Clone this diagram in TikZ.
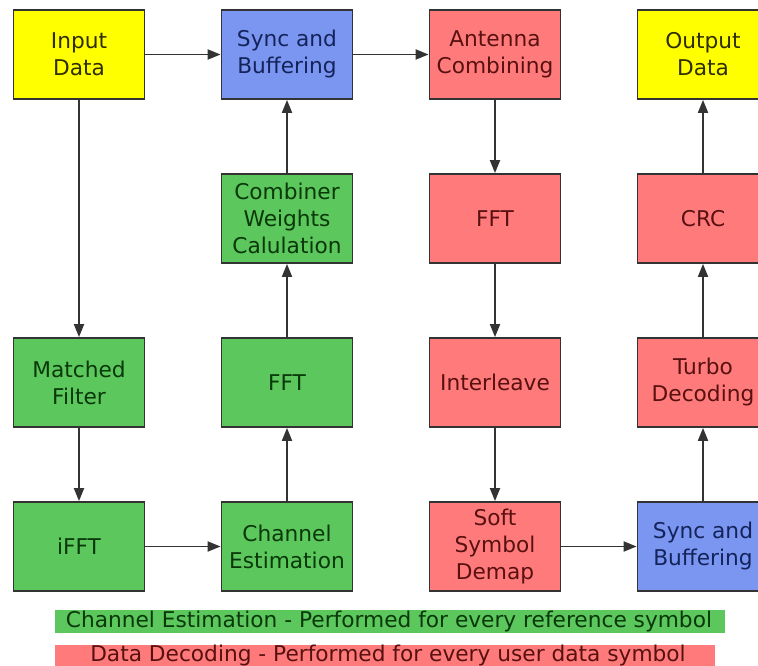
\documentclass[tikz,border=0pt]{standalone}
\usepackage{fontspec}
\setmainfont{DejaVu Sans}
\usetikzlibrary{arrows.meta}
\definecolor{cyel}{HTML}{FFFF00}
\definecolor{cblue}{HTML}{7B96F0}
\definecolor{cgreen}{HTML}{5CC75C}
\definecolor{cred}{HTML}{FF7B7B}
\definecolor{tyel}{HTML}{2E2E00}
\definecolor{tblue}{HTML}{14245A}
\definecolor{tgreen}{HTML}{0A380A}
\definecolor{tred}{HTML}{581010}
\definecolor{edge}{HTML}{333333}
\tikzset{
  box/.style={draw=edge, line width=1.8pt, minimum width=131pt, minimum height=89pt,
    inner sep=0pt, align=center, font=\fontsize{21.7}{27}\selectfont},
  ybox/.style={box, fill=cyel, text=tyel},
  bbox/.style={box, fill=cblue, text=tblue},
  gbox/.style={box, fill=cgreen, text=tgreen},
  rbox/.style={box, fill=cred, text=tred},
  conn/.style={draw=edge, line width=1.9pt, -{Triangle[length=13pt,width=10pt]}},
  legend/.style={inner sep=0pt, font=\fontsize{21.7}{27}\selectfont}
}
\begin{document}
\begin{tikzpicture}[x=1pt,y=-1pt]
\useasboundingbox (0,0) rectangle (758,666);
\clip (0,0) rectangle (758,666);
\fill[white] (0,0) rectangle (758,666);
% column 1
\node[ybox] (in) at (79,54.5) {Input\\Data};
\node[gbox] (mf) at (79,382.5) {Matched\\Filter};
\node[gbox] (ifft) at (79,546.5) {iFFT};
% column 2
\node[bbox] (sync1) at (287,54.5) {Sync and\\Buffering};
\node[gbox] (cw) at (287,218.5) {Combiner\\Weights\\Calulation};
\node[gbox] (fft1) at (287,382.5) {FFT};
\node[gbox] (ce) at (287,546.5) {Channel\\Estimation};
% column 3
\node[rbox] (ac) at (495,54.5) {Antenna\\Combining};
\node[rbox] (fft2) at (495,218.5) {FFT};
\node[rbox] (il) at (495,382.5) {Interleave};
\node[rbox] (ssd) at (495,546.5) {Soft\\Symbol\\Demap};
% column 4
\node[ybox] (out) at (703,54.5) {Output\\Data};
\node[rbox] (crc) at (703,218.5) {CRC};
\node[rbox] (td) at (703,382.5) {Turbo\\Decoding};
\node[bbox] (sync2) at (703,546.5) {Sync and\\Buffering};
% connectors
\draw[conn] (in) -- (sync1);
\draw[conn] (sync1) -- (ac);
\draw[conn] (in) -- (mf);
\draw[conn] (mf) -- (ifft);
\draw[conn] (ifft) -- (ce);
\draw[conn] (ce) -- (fft1);
\draw[conn] (fft1) -- (cw);
\draw[conn] (cw) -- (sync1);
\draw[conn] (ac) -- (fft2);
\draw[conn] (fft2) -- (il);
\draw[conn] (il) -- (ssd);
\draw[conn] (ssd) -- (sync2);
\draw[conn] (sync2) -- (td);
\draw[conn] (td) -- (crc);
\draw[conn] (crc) -- (out);
% legend
\fill[cgreen] (55,610) rectangle (725,633);
\node[legend, text=tgreen] (lg) at (389,621.5) {Channel Estimation - Performed for every reference symbol};
\fill[cred] (55,645) rectangle (715,668);
\node[legend, text=tred] (lr) at (388,656) {Data Decoding - Performed for every user data symbol};
\end{tikzpicture}
\end{document}
